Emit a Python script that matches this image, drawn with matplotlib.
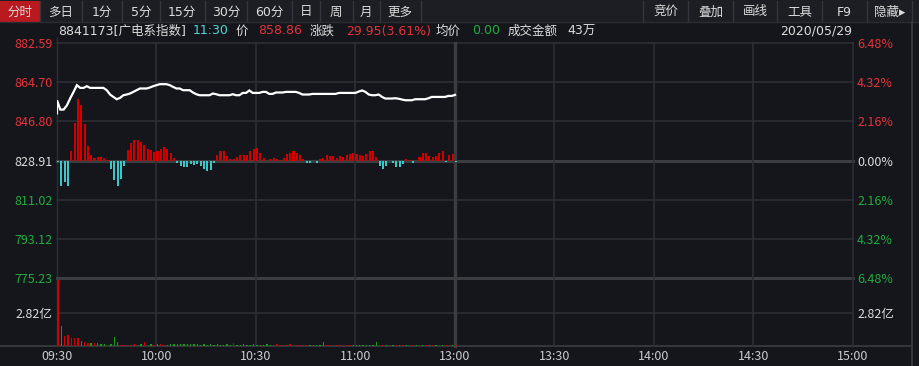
import numpy as np
import matplotlib
matplotlib.use('Agg')
import matplotlib.pyplot as plt
from matplotlib.patches import Rectangle

plt.rcParams['font.family'] = ['Noto Sans CJK SC', 'DejaVu Sans']
INFO_FONT = ['DejaVu Sans', 'Noto Sans CJK SC']

# ===== 数据 =====
PRE_CLOSE = 828.91
OPEN_PRICE = 850.47
# 09:30 ~ 11:30 每分钟价格
PRICE = [856.44, 852.17, 852.17, 854.14, 857.36, 860.25, 863.32, 862.08, 862.08, 862.86,
         862.08, 862.08, 862.08, 862.08, 862.08, 861.03, 859.05, 857.95, 856.90, 857.49,
         858.73, 859.05, 859.51, 860.25, 861.03, 861.81, 861.81, 861.81, 862.26, 862.86,
         863.32, 863.78, 863.78, 863.78, 863.32, 862.54, 861.81, 861.81, 861.03, 861.03,
         861.03, 859.97, 859.19, 858.73, 858.73, 858.73, 858.73, 859.51, 859.19, 858.73,
         858.73, 858.73, 858.73, 859.19, 858.73, 858.73, 859.79, 859.79, 860.89, 859.79,
         859.79, 859.79, 860.25, 860.25, 859.33, 859.33, 859.97, 859.97, 859.97, 860.25,
         860.25, 860.25, 860.25, 859.79, 859.05, 859.05, 859.05, 859.33, 859.33, 859.33,
         859.33, 859.33, 859.33, 859.33, 859.33, 859.79, 859.79, 859.79, 859.79, 859.79,
         859.79, 860.43, 860.89, 860.25, 859.05, 858.73, 858.73, 859.05, 857.95, 857.22,
         857.22, 857.22, 857.36, 857.13, 856.76, 856.44, 856.44, 856.44, 856.90, 856.90,
         856.90, 856.90, 857.36, 857.95, 857.95, 857.95, 857.95, 857.95, 858.41, 858.41,
         858.86]

# 买卖力道 (红正 / 青负)
STRENGTH = [-1.7, -25.7, -21.7, -25.7, 9, 37, 61, 55, 36, 14,
            5, 2, 3, 3, 2, 0.5, -8.7, -19.7, -25.7, -18.7,
            -5.7, 10, 17, 20, 20, 18, 15, 11, 10, 8,
            9, 11, 13, 11, 7, 2, -2.7, -5.7, -6.7, -6.7,
            -3.7, -4.7, -3.7, -5.7, -8.7, -10.7, -9.7, -2.7, 5, 9,
            9, 4, 1, 1, 3, 5, 5, 5, 9, 11,
            12, 7, 2, 0, 1, 2, 1, 0.5, 2, 6,
            7, 9, 7, 5, 1, -2.7, -2.7, 0, -2.7, 1,
            2, 5, 4, 4, 2, 4, 3, 5, 6, 7,
            6, 5, 4, 6, 9, 9, 3, -5.7, -8.7, -5.7,
            0, -2.7, -6.7, -6.7, -3.7, 1, 0.5, -2.7, 0, 3,
            7, 7, 4, 3, 4, 7, 9, -1, 5, 6,
            -1]
STRENGTH_UNIT = 0.4588

# 成交额 (亿)
VOLUME = [5.64, 1.71, 0.85, 0.94, 0.68, 0.68, 0.68, 0.43, 0.34, 0.26,
          0.26, 0.26, 0.26, 0.17, 0.17, 0.09, 0.17, 0.77, 0.34, 0.09,
          0.09, 0.09, 0.09, 0.17, 0.09, 0.17, 0.34, 0.09, 0.17, 0.09,
          0.17, 0.17, 0.09, 0.09, 0.17, 0.17, 0.17, 0.17, 0.17, 0.17,
          0.17, 0.17, 0.17, 0.09, 0.17, 0.09, 0.17, 0.09, 0.17, 0.09,
          0.09, 0.17, 0.09, 0.26, 0.09, 0.09, 0.17, 0.09, 0.09, 0.17,
          0.09, 0.09, 0.09, 0.17, 0.09, 0.09, 0.17, 0.09, 0.09, 0.09,
          0.17, 0.09, 0.09, 0.09, 0.09, 0.09, 0.09, 0.09, 0.09, 0.09,
          0.34, 0.09, 0.09, 0.09, 0.09, 0.09, 0.09, 0.09, 0.09, 0.09,
          0.09, 0.09, 0.09, 0.09, 0.09, 0.09, 0.34, 0.09, 0.09, 0.09,
          0.09, 0.09, 0.09, 0.09, 0.09, 0.09, 0.09, 0.09, 0.09, 0.09,
          0.09, 0.09, 0.09, 0.09, 0.09, 0.09, 0.09, 0.09, 0.09, 0.09,
          0.09]
VOL_UP = ("rgrrrrrgrrgrgggrgggrrrrrrgrrgrgrrggggggggggg"
          "gggggggggrgggggggggggrrrrrrrrrrrggggg"
          "rrrrrrrrggggggggrrgrgrgrgrrgrgrgrgrgr")

PRICE_TICKS = [882.59, 864.70, 846.80, 828.91, 811.02, 793.12, 775.23]
PCT_LABELS = ['6.48%', '4.32%', '2.16%', '0.00%', '2.16%', '4.32%', '6.48%']
TIME_TICKS = [0, 30, 60, 90, 120, 150, 180, 210, 240]
TIME_LABELS = ['09:30', '10:00', '10:30', '11:00', '13:00', '13:30', '14:00', '14:30', '15:00']
VOL_TICK = 2.82

TABS_LEFT = ['分时', '多日', '1分', '5分', '15分', '30分', '60分', '日', '周', '月', '更多']
TABS_RIGHT = ['竞价', '叠加', '画线', '工具', 'F9', '隐藏▸']

# ===== 颜色 =====
BG = '#14161b'
BAR_BG = '#1c1e23'
GRID = '#2d2f34'
GRID_THICK = '#3b3d41'
RED = '#e8323a'
GREEN = '#1fae3e'
WHITE = '#dcdcdc'
CYAN = '#4fd6d6'
BAR_RED = '#d00000'
BAR_CYAN = '#3cc8c8'
VOL_GREEN = '#10a010'

W, H = 920, 366
BAR_SHIFT = 0.3   # 柱子相对分钟刻度略向右


def box(x0, y0, x1, y1):
    return [x0 / W, 1 - y1 / H, (x1 - x0) / W, (y1 - y0) / H]


fig = plt.figure(figsize=(W / 100, H / 100), dpi=100, facecolor=BG)

# ===== 背景装饰层 (工具栏, 信息行) =====
ov = fig.add_axes([0, 0, 1, 1], zorder=0)
ov.set_xlim(0, W)
ov.set_ylim(H, 0)
ov.axis('off')
ov.add_patch(Rectangle((0, 0), W, 22, color=BAR_BG, lw=0))
ov.add_patch(Rectangle((0, 1), 40, 21, color='#b81a20', lw=0))
left_seps = [40, 82, 122, 160, 205, 247, 292, 320, 353, 380, 421]
left_centers = [20, 61, 102, 141, 182, 226, 269, 306, 336, 366, 400]
for sx in left_seps:
    ov.plot([sx, sx], [1, 22], color='#34363b', lw=1)
for cx, t in zip(left_centers, TABS_LEFT):
    ov.text(cx, 12, t, color=WHITE, fontsize=9, ha='center', va='center', family=INFO_FONT)
right_seps = [643, 688, 733, 777, 822, 867, 912]
for sx in right_seps:
    ov.plot([sx, sx], [1, 22], color='#34363b', lw=1)
for i, t in enumerate(TABS_RIGHT):
    cx = (right_seps[i] + right_seps[i + 1]) / 2
    ov.text(cx, 12, t, color=WHITE, fontsize=9, ha='center', va='center', family=INFO_FONT)
ov.plot([0, W], [22, 22], color='#2a2c31', lw=1)

# 信息行
info = [(58, '8841173[广电系指数]', WHITE), (193, '11:30', CYAN), (236, '价', WHITE),
        (258, '858.86', RED), (310, '涨跌', WHITE), (346, '29.95(3.61%)', RED),
        (436, '均价', WHITE), (472, '0.00', GREEN), (508, '成交金额', WHITE),
        (567, '43万', WHITE)]
for x, t, c in info:
    ov.text(x, 31, t, color=c, fontsize=9, ha='left', va='center', family=INFO_FONT)
ov.text(852, 31, '2020/05/29', color=WHITE, fontsize=9, ha='right', va='center',
        family=INFO_FONT)

# 外框线
ov.plot([0, 911], [346, 346], color=GRID_THICK, lw=1.2)
ov.plot([912, 912], [22, H], color=GRID_THICK, lw=1.2)
ov.plot([57, 57], [38, 346], color=GRID, lw=1)

minutes = np.arange(len(PRICE))

# ===== 价格面板 =====
ax = fig.add_axes(box(57, 43, 853, 278), zorder=1)
ax.set_facecolor('none')
ax.set_xlim(0, 240)
ax.set_ylim(PRICE_TICKS[-1], PRICE_TICKS[0])
for p in PRICE_TICKS:
    if p == PRE_CLOSE or p == PRICE_TICKS[-1]:
        ax.axhline(p, color=GRID_THICK, lw=2.2, zorder=1, clip_on=False)
    else:
        ax.axhline(p, color=GRID, lw=1.2, zorder=1, clip_on=False)
for t in TIME_TICKS[1:]:
    ax.axvline(t, color=GRID_THICK if t == 120 else GRID, lw=2.4 if t == 120 else 1.2,
               zorder=1, clip_on=False)

strength = np.array(STRENGTH) * STRENGTH_UNIT
bar_colors = [BAR_RED if s > 0 else BAR_CYAN for s in strength]
ax.bar(minutes + BAR_SHIFT, strength, bottom=PRE_CLOSE, width=0.62, color=bar_colors,
       lw=0, zorder=2)

ax.plot(np.r_[0, minutes], np.r_[OPEN_PRICE, PRICE], color='white', lw=1.6, zorder=3,
        solid_joinstyle='miter')

for s in ax.spines.values():
    s.set_visible(False)
ax.set_xticks([])
ax.set_yticks(PRICE_TICKS)
ax.set_yticklabels([f'{p:.2f}' for p in PRICE_TICKS])
ax.tick_params(axis='y', length=0, pad=3, labelsize=9)
for lbl, p in zip(ax.get_yticklabels(), PRICE_TICKS):
    lbl.set_color(RED if p > PRE_CLOSE else (WHITE if p == PRE_CLOSE else GREEN))

axr = ax.twinx()
axr.set_ylim(ax.get_ylim())
axr.set_yticks(PRICE_TICKS)
axr.set_yticklabels(PCT_LABELS)
axr.tick_params(axis='y', length=0, pad=3, labelsize=9)
for s in axr.spines.values():
    s.set_visible(False)
for lbl, p in zip(axr.get_yticklabels(), PRICE_TICKS):
    lbl.set_color(RED if p > PRE_CLOSE else (WHITE if p == PRE_CLOSE else GREEN))

# ===== 成交额面板 =====
vax = fig.add_axes(box(57, 278, 853, 346), zorder=1)
vax.set_facecolor('none')
vax.set_xlim(0, 240)
vax.set_ylim(0, VOL_TICK * 68 / 33)
vax.axhline(VOL_TICK, color=GRID, lw=1.2, zorder=1)
for t in TIME_TICKS[1:]:
    vax.axvline(t, color=GRID_THICK if t == 120 else GRID, lw=2.4 if t == 120 else 1.2,
                zorder=1, clip_on=False)
vcolors = [BAR_RED if c == 'r' else VOL_GREEN for c in VOL_UP[:len(VOLUME)]]
vax.bar(minutes + BAR_SHIFT, VOLUME, width=0.4, color=vcolors, lw=0, zorder=2)
for s in vax.spines.values():
    s.set_visible(False)
vax.set_xticks(TIME_TICKS)
vax.set_xticklabels(TIME_LABELS)
vax.tick_params(axis='x', length=0, pad=3, labelsize=9, colors='#c8ccd0')
vax.set_yticks([VOL_TICK])
vax.set_yticklabels(['2.82亿'])
vax.tick_params(axis='y', length=0, pad=3, labelsize=9, colors=WHITE)
vr = vax.twinx()
vr.set_ylim(vax.get_ylim())
vr.set_yticks([VOL_TICK])
vr.set_yticklabels(['2.82亿'])
vr.tick_params(axis='y', length=0, pad=3, labelsize=9, colors=WHITE)
for s in vr.spines.values():
    s.set_visible(False)

fig.savefig('out.png', dpi=100, facecolor=BG)
